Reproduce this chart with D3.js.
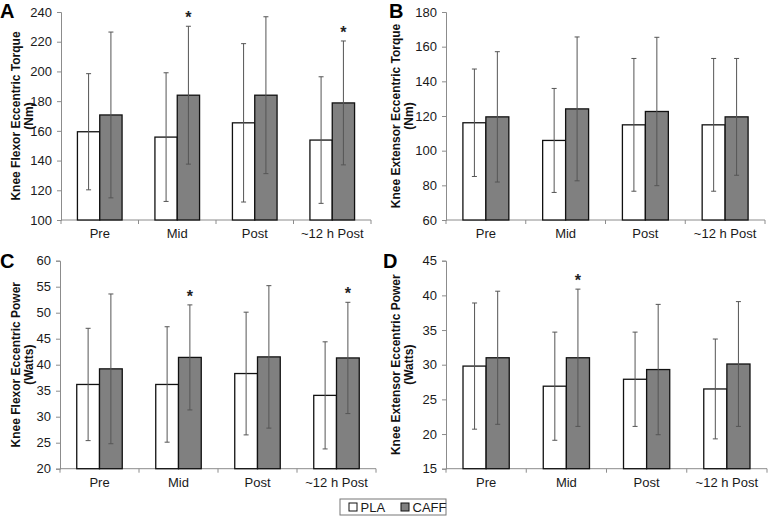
<!DOCTYPE html>
<html><head><meta charset="utf-8">
<script src="https://cdn.jsdelivr.net/npm/d3@7"></script>
<style>body{margin:0;background:#fff}svg{display:block}</style>
</head><body>
<svg id="chart" width="778" height="525"></svg>
<script>
// ---- data ----
const categories = ["Pre", "Mid", "Post", "~12 h Post"];
const seriesNames = ["PLA", "CAFF"];

const flexorTorquePla = [159.4, 155.8, 165.4, 153.8];
const flexorTorquePlaSd = [39.1, 43.3, 53.3, 42.6];
const flexorTorqueCaff = [170.7, 184.0, 184.0, 178.8];
const flexorTorqueCaffSd = [55.8, 46.4, 52.8, 41.7];
const flexorTorqueSig = [false, true, false, true];
const flexorTorqueTicks = [100, 120, 140, 160, 180, 200, 220, 240];

const extensorTorquePla = [116.1, 105.9, 114.9, 114.9];
const extensorTorquePlaSd = [31.0, 30.0, 38.3, 38.3];
const extensorTorqueCaff = [119.5, 124.1, 122.6, 119.5];
const extensorTorqueCaffSd = [37.6, 41.5, 42.8, 33.7];
const extensorTorqueSig = [false, false, false, false];
const extensorTorqueTicks = [60, 80, 100, 120, 140, 160, 180];

const flexorPowerPla = [36.2, 36.2, 38.3, 34.1];
const flexorPowerPlaSd = [10.8, 11.1, 11.8, 10.3];
const flexorPowerCaff = [39.2, 41.4, 41.5, 41.3];
const flexorPowerCaffSd = [14.4, 10.1, 13.7, 10.7];
const flexorPowerSig = [false, true, false, true];
const flexorPowerTicks = [20, 25, 30, 35, 40, 45, 50, 55, 60];

const extensorPowerPla = [29.8, 26.9, 27.9, 26.5];
const extensorPowerPlaSd = [9.1, 7.8, 6.8, 7.2];
const extensorPowerCaff = [31.0, 31.0, 29.3, 30.1];
const extensorPowerCaffSd = [9.6, 9.9, 9.4, 9.0];
const extensorPowerSig = [false, true, false, false];
const extensorPowerTicks = [15, 20, 25, 30, 35, 40, 45];

const panels = [
  {letter: "A", title: ["Knee Flexor Eccentric Torque", "(Nm)"], pla: flexorTorquePla, plaSd: flexorTorquePlaSd,
   caff: flexorTorqueCaff, caffSd: flexorTorqueCaffSd, sig: flexorTorqueSig, ticks: flexorTorqueTicks,
   x0: 61, x1: 371, yTop: 12, yBot: 220, lx: 0, ly: 18, t1: 16, t2: 28.5},
  {letter: "B", title: ["Knee Extensor Eccentric Torque", "(Nm)"], pla: extensorTorquePla, plaSd: extensorTorquePlaSd,
   caff: extensorTorqueCaff, caffSd: extensorTorqueCaffSd, sig: extensorTorqueSig, ticks: extensorTorqueTicks,
   x0: 446, x1: 765, yTop: 12, yBot: 220, lx: 389, ly: 18, t1: 396, t2: 408.5},
  {letter: "C", title: ["Knee Flexor Eccentric Power", "(Watts)"], pla: flexorPowerPla, plaSd: flexorPowerPlaSd,
   caff: flexorPowerCaff, caffSd: flexorPowerCaffSd, sig: flexorPowerSig, ticks: flexorPowerTicks,
   x0: 60, x1: 376, yTop: 260.7, yBot: 468.7, lx: 0, ly: 268, t1: 16, t2: 28.5},
  {letter: "D", title: ["Knee Extensor Eccentric Power", "(Watts)"], pla: extensorPowerPla, plaSd: extensorPowerPlaSd,
   caff: extensorPowerCaff, caffSd: extensorPowerCaffSd, sig: extensorPowerSig, ticks: extensorPowerTicks,
   x0: 446, x1: 767, yTop: 260.7, yBot: 468.7, lx: 383, ly: 268, t1: 396, t2: 408.5}
];

const fills = {PLA: "#ffffff", CAFF: "#808080"};
const font = "Arial, 'Liberation Sans', sans-serif";
const svg = d3.select("#chart");

panels.forEach(p => {
  const g = svg.append("g");
  const y = d3.scaleLinear().domain([p.ticks[0], p.ticks[p.ticks.length - 1]]).range([p.yBot, p.yTop]);
  const x = d3.scaleBand().domain(categories).range([p.x0, p.x1]).paddingInner(0).paddingOuter(0);
  const bw = x.step() * 0.288;
  const xs = d3.scaleBand().domain(seriesNames).range([0, 2 * bw]);

  // y axis
  const ya = d3.axisLeft(y).tickValues(p.ticks).tickSize(4).tickPadding(5).tickFormat(d3.format("d"));
  const yg = g.append("g").attr("transform", `translate(${p.x0},0)`).call(ya);
  yg.select(".domain").attr("stroke", "#8c8c8c");
  yg.selectAll(".tick line").attr("stroke", "#8c8c8c");
  yg.selectAll(".tick text").attr("font-family", font).attr("font-size", 13).attr("fill", "#1a1a1a");

  // x axis
  const xg = g.append("g").attr("transform", `translate(0,${p.yBot})`);
  xg.append("line").attr("x1", p.x0).attr("x2", p.x1).attr("stroke", "#8c8c8c");
  const bounds = categories.map(c => x(c)).concat([p.x1]);
  xg.selectAll("line.tk").data(bounds).join("line").attr("class", "tk")
    .attr("x1", d => d).attr("x2", d => d).attr("y1", 0).attr("y2", 4).attr("stroke", "#8c8c8c");
  xg.selectAll("text").data(categories).join("text")
    .attr("x", d => x(d) + x.bandwidth() / 2).attr("y", 18)
    .attr("text-anchor", "middle").attr("font-family", font).attr("font-size", 13).attr("fill", "#1a1a1a")
    .text(d => d);

  const rows = categories.map((c, i) => ({c, i, vals: [
    {s: "PLA", m: p.pla[i], e: p.plaSd[i]},
    {s: "CAFF", m: p.caff[i], e: p.caffSd[i]}]}));

  const grp = g.selectAll("g.cat").data(rows).join("g").attr("class", "cat")
    .attr("transform", d => `translate(${x(d.c) + x.bandwidth() / 2 - bw},0)`);

  grp.selectAll("rect").data(d => d.vals).join("rect")
    .attr("x", d => xs(d.s)).attr("width", xs.bandwidth())
    .attr("y", d => y(d.m)).attr("height", d => p.yBot - y(d.m))
    .attr("fill", d => fills[d.s]).attr("stroke", "#111").attr("stroke-width", 1.3);

  // error bars
  const eb = grp.selectAll("g.eb").data(d => d.vals).join("g").attr("class", "eb")
    .attr("transform", d => `translate(${xs(d.s) + xs.bandwidth() / 2},0)`);
  eb.append("line").attr("y1", d => y(d.m + d.e)).attr("y2", d => y(d.m - d.e)).attr("stroke", "#555").attr("stroke-width", 1);
  eb.append("line").attr("x1", -2.5).attr("x2", 2.5).attr("y1", d => y(d.m + d.e)).attr("y2", d => y(d.m + d.e)).attr("stroke", "#555");
  eb.append("line").attr("x1", -2.5).attr("x2", 2.5).attr("y1", d => y(d.m - d.e)).attr("y2", d => y(d.m - d.e)).attr("stroke", "#555");

  // significance
  grp.filter(d => p.sig[d.i]).append("text")
    .attr("x", xs("CAFF") + xs.bandwidth() / 2)
    .attr("y", d => y(d.vals[1].m + d.vals[1].e) - 3)
    .attr("text-anchor", "middle").attr("font-family", font).attr("font-size", 16).attr("font-weight", "bold")
    .attr("fill", "#222").text("*");

  // axis title
  const cy = (p.yTop + p.yBot) / 2;
  [p.t1, p.t2].forEach((tx, k) => {
    g.append("text").attr("transform", `translate(${tx + 4},${cy}) rotate(-90)`)
      .attr("text-anchor", "middle").attr("font-family", font).attr("font-size", 12).attr("font-weight", "bold")
      .attr("fill", "#111").text(p.title[k]);
  });

  // panel letter
  g.append("text").attr("x", p.lx).attr("y", p.ly).attr("font-family", font).attr("font-size", 20)
    .attr("font-weight", "bold").attr("fill", "#000").text(p.letter);
});

// legend
const lg = svg.append("g");
lg.append("rect").attr("x", 340).attr("y", 499).attr("width", 106).attr("height", 16)
  .attr("fill", "#fff").attr("stroke", "#777");
const lx = d3.scalePoint().domain(seriesNames).range([349, 401]);
const li = lg.selectAll("g.li").data(seriesNames).join("g").attr("class", "li")
  .attr("transform", d => `translate(${lx(d)},503)`);
li.append("rect").attr("width", 8).attr("height", 8).attr("fill", d => fills[d]).attr("stroke", "#111");
li.append("text").attr("x", 11.5).attr("y", 8.5).attr("font-family", font).attr("font-size", 13).attr("fill", "#1a1a1a").text(d => d);
</script>
</body></html>
